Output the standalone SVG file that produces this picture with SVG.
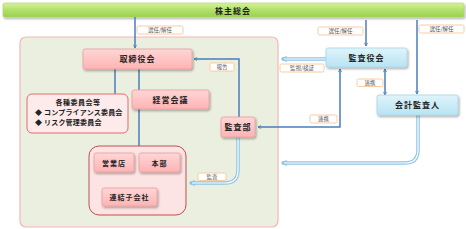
<svg xmlns="http://www.w3.org/2000/svg" width="466" height="229" viewBox="0 0 466 229">
<defs>
<linearGradient id="gGreen" x1="0" y1="0" x2="0" y2="1"><stop offset="0" stop-color="#d4f29a"/><stop offset="0.5" stop-color="#b2e06a"/><stop offset="1" stop-color="#9bd14e"/></linearGradient>
<linearGradient id="gPink" x1="0" y1="0" x2="0" y2="1"><stop offset="0" stop-color="#ffd6d6"/><stop offset="1" stop-color="#ffb3b3"/></linearGradient>
<linearGradient id="gBlue" x1="0" y1="0" x2="0" y2="1"><stop offset="0" stop-color="#dff4fb"/><stop offset="1" stop-color="#b8e4f2"/></linearGradient>
<filter id="sh" x="-10%" y="-20%" width="130%" height="160%"><feDropShadow dx="1" dy="1.5" stdDeviation="0.8" flood-color="#000" flood-opacity="0.35"/></filter>
<marker id="aDark" viewBox="0 0 10 10" refX="9" refY="5" markerWidth="4" markerHeight="4" orient="auto-start-reverse" markerUnits="userSpaceOnUse"><path d="M1,1 L9,5 L1,9" fill="none" stroke="#4a7ebb" stroke-width="2"/></marker>
<marker id="aLight" viewBox="0 0 10 10" refX="9" refY="5" markerWidth="6" markerHeight="6" orient="auto" markerUnits="userSpaceOnUse"><path d="M1,1 L9,5 L1,9" fill="none" stroke="#8fc6e6" stroke-width="2.2"/></marker>
<style>
.nt{font-family:"Noto Sans CJK JP","Noto Sans CJK SC",sans-serif;font-weight:bold;font-size:8px;fill:#222;text-anchor:middle;letter-spacing:1px}
.lt{font-family:"Noto Sans CJK JP","Noto Sans CJK SC",sans-serif;font-size:5.5px;fill:#555;text-anchor:middle}
.pk{fill:url(#gPink);stroke:#e8a0a0;stroke-width:0.8;filter:url(#sh)}
.bl{fill:url(#gBlue);stroke:#a8d4e6;stroke-width:0.8;filter:url(#sh)}
.lb{fill:#fff;stroke:#f7c08a;stroke-width:0.8}
.dk{fill:none;stroke:#4a7ebb;stroke-width:1.5}
.lo{fill:none;stroke:#8fc6e6;stroke-width:3.5}
.li{fill:none;stroke:#fff;stroke-width:1.2}
</style>
</defs>
<rect width="466" height="229" fill="#fff"/>
<g id="panel"><rect x="20" y="37" width="258" height="190" rx="6" fill="#ebefdf" stroke="#f6b6b6" stroke-width="1.2"/></g>
<g id="shareholders"><rect x="3" y="3" width="461" height="14" rx="1.5" fill="url(#gGreen)" stroke="#a9d86a" stroke-width="0.6" filter="url(#sh)"/><text class="nt" x="233" y="13.5">株主総会</text></g>
<g id="connectors">
<path class="dk" d="M135,17 V48" marker-end="url(#aDark)"/>
<path class="dk" d="M366,20 V46" marker-end="url(#aDark)"/>
<path class="dk" d="M417,20 V94" marker-end="url(#aDark)"/>
<path class="dk" d="M385,69 V95" marker-start="url(#aDark)" marker-end="url(#aDark)"/>
<path class="dk" d="M340,69 V127 H258" marker-start="url(#aDark)" marker-end="url(#aDark)"/>
<path class="dk" d="M239,117 V59 H194" marker-end="url(#aDark)"/>
<path class="dk" d="M115,69 V94"/>
<path class="dk" d="M139,69 V146"/>
<path class="dk" d="M173,172 V197 H158" marker-end="url(#aDark)"/>
<path class="lo" d="M326,59 H282" marker-end="url(#aLight)"/>
<path class="li" d="M326,59 H284"/>
<path class="lo" d="M238,137 V170 Q238,183 225,183 H190" marker-end="url(#aLight)"/>
<path class="li" d="M238,137 V170 Q238,183 225,183 H192"/>
<path class="lo" d="M418,115 V150 Q418,163 405,163 H282" marker-end="url(#aLight)"/>
<path class="li" d="M418,115 V150 Q418,163 405,163 H284"/>
</g>
<g id="labels">
<rect class="lb" x="137" y="26" width="46" height="8" rx="1.5"/><text class="lt" x="160" y="32">選任/解任</text>
<rect class="lb" x="318" y="27" width="45" height="8" rx="1.5"/><text class="lt" x="340.5" y="33">選任/解任</text>
<rect class="lb" x="419" y="25" width="45" height="8" rx="1.5"/><text class="lt" x="441.5" y="31">選任/解任</text>
<rect class="lb" x="280" y="64" width="44" height="8" rx="1.5"/><text class="lt" x="302" y="70">監視/検証</text>
<rect class="lb" x="357" y="79" width="26" height="7.5" rx="1.5"/><text class="lt" x="370" y="85">連携</text>
<rect class="lb" x="310" y="115" width="27" height="8" rx="1.5"/><text class="lt" x="323.5" y="121">連携</text>
<rect class="lb" x="210" y="63" width="24" height="8" rx="1.5"/><text class="lt" x="222" y="69">報告</text>
<rect class="lb" x="198" y="173" width="28" height="7.5" rx="1.5"/><text class="lt" x="212" y="179">監査</text>
</g>
<g id="board"><rect class="pk" x="83" y="49" width="109" height="20" rx="2"/><text class="nt" x="137.5" y="62">取締役会</text></g>
<g id="audit-board"><rect class="bl" x="326" y="48" width="81" height="19" rx="2"/><text class="nt" x="366.5" y="60.5">監査役会</text></g>
<g id="accounting-auditor"><rect class="bl" x="377" y="95" width="81" height="20" rx="2"/><text class="nt" x="417.5" y="108">会計監査人</text></g>
<g id="committees"><rect x="27" y="94" width="101" height="39" rx="5" fill="#fdeaea" stroke="#e86a6a" stroke-width="1"/>
<text class="nt" x="78" y="105" style="font-size:7px;letter-spacing:0.5px">各種委員会等</text>
<text class="nt" x="35" y="115" style="font-size:7px;letter-spacing:0.2px;text-anchor:start">◆ コンプライアンス委員会</text>
<text class="nt" x="35" y="124.5" style="font-size:7px;letter-spacing:0.2px;text-anchor:start">◆ リスク管理委員会</text></g>
<g id="management"><rect class="pk" x="132" y="90" width="77" height="19" rx="2"/><text class="nt" x="170.5" y="102.5">経営会議</text></g>
<g id="internal-audit"><rect class="pk" x="221" y="117" width="34" height="20" rx="2"/><text class="nt" x="238" y="130">監査部</text></g>
<g id="group"><rect x="89" y="146" width="97" height="69" rx="10" fill="#fde4e4" stroke="#c0504d" stroke-width="1"/></g>
<g id="branches"><rect class="pk" x="94" y="153" width="40" height="19" rx="2"/><text class="nt" x="114" y="165.5" style="font-size:7px">営業店</text></g>
<g id="headquarters"><rect class="pk" x="139" y="153" width="41" height="19" rx="2"/><text class="nt" x="159.5" y="165.5" style="font-size:7px">本部</text></g>
<g id="subsidiaries"><rect class="pk" x="102" y="188" width="55" height="18" rx="2"/><text class="nt" x="129.5" y="200" style="font-size:7px">連結子会社</text></g>
</svg>
